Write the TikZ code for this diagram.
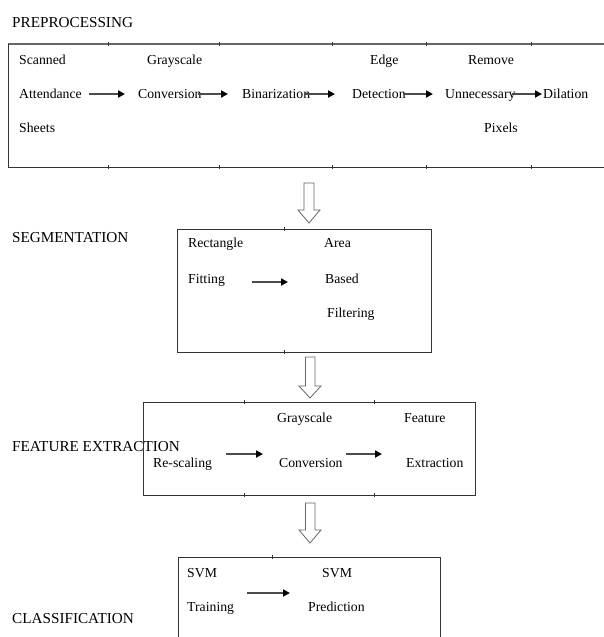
\documentclass[tikz,border=0pt]{standalone}
\usepackage{fontspec}
\setmainfont{Liberation Serif}
\usetikzlibrary{arrows.meta}
\tikzset{
  txt/.style={anchor=base west, inner sep=0pt, font=\fontsize{13.75}{16}\selectfont, text=black},
  head/.style={anchor=base west, inner sep=0pt, font=\fontsize{15.2}{18}\selectfont, text=black},
  boxline/.style={draw=black!80, line width=1pt},
  tickline/.style={draw=black!80, line width=0.8pt},
  flow/.style={draw=black!70, line width=1.8pt, -{Triangle[length=7pt,width=7pt,color=black]}},
  hollow/.style={draw=black!60, line width=0.8pt, fill=white}
}
\begin{document}
\begin{tikzpicture}[x=1pt,y=-1pt]
\useasboundingbox (0,0) rectangle (604,637);
% ---------- PREPROCESSING ----------
\node[head] (hpre) at (12,27.5) {PREPROCESSING};
\draw[boxline, draw=black!60, line width=1.4pt] (8,44) -- (606,44);
\draw[boxline] (8,167) -- (606,167);
\draw[boxline] (8,44) -- (8,167);
\foreach \tx in {108,219,332,426,531}{
  \draw[tickline] (\tx,42) -- (\tx,46);
  \draw[tickline] (\tx,165) -- (\tx,169);
}
\node[txt] (scanned) at (19,64.5) {Scanned};
\node[txt] (attend) at (19,98) {Attendance};
\node[txt] (sheets) at (19,132.5) {Sheets};
\node[txt] (gray1) at (147,64.5) {Grayscale};
\node[txt] (conv1) at (138,98) {Conversion};
\node[txt] (binar) at (242,98) {Binarization};
\node[txt] (edge) at (370,64.5) {Edge};
\node[txt] (detect) at (352,98) {Detection};
\node[txt] (remove) at (468,64.5) {Remove};
\node[txt] (unnec) at (445,98) {Unnecessary};
\node[txt] (pixels) at (484,132.5) {Pixels};
\node[txt] (dilat) at (543,98) {Dilation};
\coordinate (p1s) at (89,94);  \coordinate (p1e) at (125,94);
\coordinate (p2s) at (198,94); \coordinate (p2e) at (228,94);
\coordinate (p3s) at (305,94); \coordinate (p3e) at (335,94);
\coordinate (p4s) at (403,94); \coordinate (p4e) at (433,94);
\coordinate (p5s) at (512,94); \coordinate (p5e) at (542,94);
\draw[flow] (p1s) -- (p1e);
\draw[flow] (p2s) -- (p2e);
\draw[flow] (p3s) -- (p3e);
\draw[flow] (p4s) -- (p4e);
\draw[flow] (p5s) -- (p5e);
% hollow arrow 1
\draw[hollow] (304,183) -- (314,183) -- (314,210) -- (320,210) -- (309,223) -- (298,210) -- (304,210) -- cycle;
% ---------- SEGMENTATION ----------
\node[head] (hseg) at (12,242.5) {SEGMENTATION};
\draw[boxline] (177,229) rectangle (431,352);
\draw[tickline] (284,227) -- (284,231);
\draw[tickline] (284,350) -- (284,354);
\node[txt] (rect) at (188,247.5) {Rectangle};
\node[txt] (fitting) at (188,283.5) {Fitting};
\node[txt] (area) at (324,247.5) {Area};
\node[txt] (based) at (325,283.5) {Based};
\node[txt] (filter) at (327,317.5) {Filtering};
\coordinate (s1s) at (252,282); \coordinate (s1e) at (288,282);
\draw[flow] (s1s) -- (s1e);
% hollow arrow 2
\draw[hollow] (305.5,357) -- (315,357) -- (315,386) -- (321,386) -- (310,398) -- (299,386) -- (305.5,386) -- cycle;
% ---------- FEATURE EXTRACTION ----------
\draw[boxline] (143,402) rectangle (475,495);
\foreach \tx in {244,374}{
  \draw[tickline] (\tx,400) -- (\tx,404);
  \draw[tickline] (\tx,493) -- (\tx,497);
}
\node[head] (hfeat) at (12,451) {FEATURE EXTRACTION};
\node[txt] (gray2) at (277,422.5) {Grayscale};
\node[txt] (feat) at (404,422.5) {Feature};
\node[txt] (rescal) at (153,467.5) {Re-scaling};
\node[txt] (conv2) at (279,467.5) {Conversion};
\node[txt] (extr) at (406,467.5) {Extraction};
\coordinate (f1s) at (226,454); \coordinate (f1e) at (263,454);
\coordinate (f2s) at (346,454); \coordinate (f2e) at (382,454);
\draw[flow] (f1s) -- (f1e);
\draw[flow] (f2s) -- (f2e);
% hollow arrow 3
\draw[hollow] (305.5,503) -- (315,503) -- (315,530) -- (321,530) -- (310,543) -- (299,530) -- (305.5,530) -- cycle;
% ---------- CLASSIFICATION ----------
\draw[boxline] (178,640) -- (178,557) -- (440,557) -- (440,640);
\draw[tickline] (272,555) -- (272,559);
\node[head] (hclass) at (12,623) {CLASSIFICATION};
\node[txt] (svm1) at (187,577.5) {SVM};
\node[txt] (train) at (187,611.5) {Training};
\node[txt] (svm2) at (322,577.5) {SVM};
\node[txt] (pred) at (308,611.5) {Prediction};
\coordinate (c1s) at (247,593); \coordinate (c1e) at (290,593);
\draw[flow] (c1s) -- (c1e);
\end{tikzpicture}
\end{document}
